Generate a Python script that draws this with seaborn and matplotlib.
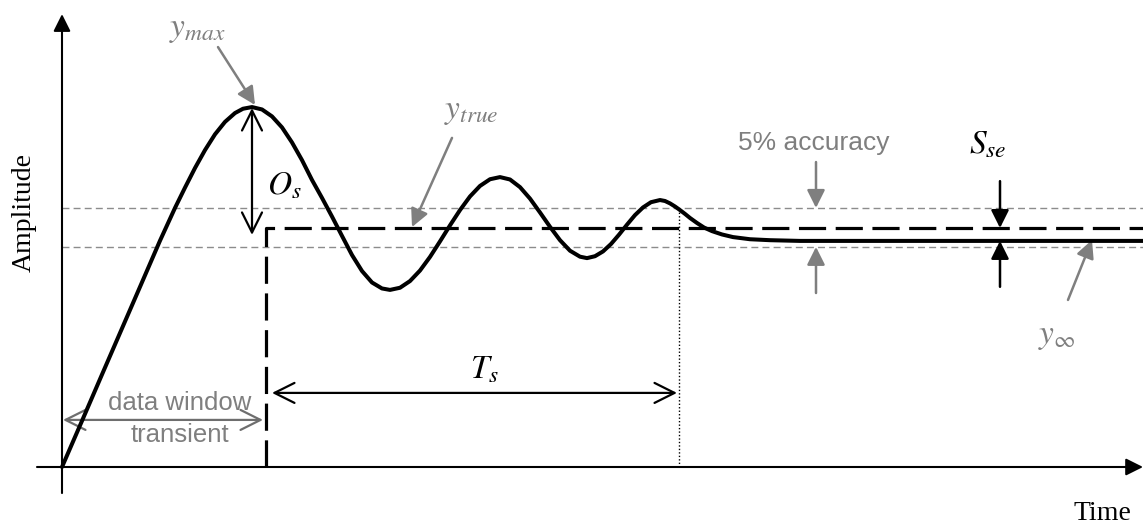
import matplotlib
matplotlib.use("Agg")
import matplotlib.pyplot as plt
import seaborn as sns
import pandas as pd

# Step response of an under-damped system (time, amplitude)
time = [0.00, 0.20, 0.40, 0.60, 0.80, 0.98, 1.13, 1.23, 1.33, 1.43, 1.53, 1.63,
        1.73, 1.81, 1.90, 2.00, 2.10, 2.20, 2.30, 2.40, 2.50, 2.60, 2.70, 2.80,
        2.90, 3.00, 3.10, 3.20, 3.28, 3.38, 3.48, 3.58, 3.68, 3.78, 3.88, 3.98,
        4.08, 4.18, 4.28, 4.38, 4.48, 4.58, 4.68, 4.78, 4.88, 4.98, 5.08, 5.18,
        5.25, 5.33, 5.41, 5.49, 5.57, 5.65, 5.73, 5.81, 5.89, 5.98, 6.03, 6.08,
        6.13, 6.18, 6.23, 6.28, 6.35, 6.42, 6.50, 6.60, 6.71, 6.88, 7.08, 7.38,
        8.38, 9.38, 10.81]
amplitude = [0.000, 0.193, 0.387, 0.580, 0.773, 0.947, 1.084, 1.169, 1.251, 1.326, 1.392, 1.444,
             1.481, 1.499, 1.506, 1.496, 1.467, 1.421, 1.358, 1.284, 1.201, 1.126, 1.048, 0.967,
             0.887, 0.820, 0.772, 0.747, 0.741, 0.750, 0.778, 0.822, 0.879, 0.944, 1.011, 1.075,
             1.132, 1.176, 1.204, 1.213, 1.203, 1.171, 1.123, 1.065, 1.005, 0.949, 0.905, 0.880,
             0.874, 0.882, 0.902, 0.933, 0.972, 1.014, 1.054, 1.086, 1.108, 1.117, 1.113, 1.103,
             1.090, 1.075, 1.059, 1.042, 1.021, 1.002, 0.987, 0.973, 0.962, 0.953, 0.949, 0.946,
             0.946, 0.946, 0.946]

# Key quantities
y_true = 1.0          # ideal final value (dashed step)
y_max = 1.506         # peak of the response
y_inf = 0.946         # steady-state value
band_hi = 1.084       # upper accuracy limit
band_lo = 0.921       # lower accuracy limit
t_window = 2.04       # end of the transient data window
t_settle = 6.17       # settling instant
t_end = 10.81

sns.set_theme(style="white")
plt.rcParams["mathtext.fontset"] = "stix"

fig = plt.figure(figsize=(11.43, 5.24), dpi=100)
ax = fig.add_axes([0, 0, 1, 1])
ax.set_xlim(-0.62, t_end)
ax.set_ylim(-0.2385, 1.954)
ax.axis("off")

GRAY = "#7f7f7f"
serif = "Liberation Serif"
sans = "Liberation Sans"
MATH = 24

# accuracy band
for yb in (band_hi, band_lo):
    ax.plot([0, t_end], [yb, yb], color="#8c8c8c", lw=1.0,
            linestyle=(0, (5, 3)), zorder=1)

# ideal step (y_true)
step = pd.DataFrame({"t": [t_window, t_window, t_end], "y": [0, y_true, y_true]})
sns.lineplot(data=step, x="t", y="y", ax=ax, sort=False, estimator=None,
             color="black", lw=2.3, linestyle=(0, (8.5, 3.0)), zorder=3)

# settling marker
ax.plot([t_settle, t_settle], [0, band_hi], color="black", lw=1.0,
        linestyle=(0, (1, 1.5)), zorder=2)

# response
resp = pd.DataFrame({"t": time, "y": amplitude})
sns.lineplot(data=resp, x="t", y="y", ax=ax, sort=False, estimator=None,
             color="black", lw=2.9, zorder=4)

# coordinate axes
ax.annotate("", xy=(0, 1.895), xytext=(0, -0.109),
            arrowprops=dict(arrowstyle="-|>", color="black", lw=1.5,
                            mutation_scale=26, shrinkA=0, shrinkB=0))
ax.annotate("", xy=(t_end, 0), xytext=(-0.25, 0),
            arrowprops=dict(arrowstyle="-|>", color="black", lw=1.5,
                            mutation_scale=26, shrinkA=0, shrinkB=0))

ax.text(-0.38, 1.063, "Amplitude", rotation=90, ha="center", va="center",
        fontsize=20, family=serif, color="black")
ax.text(10.405, -0.222, "Time", ha="center", va="baseline",
        fontsize=20, family=serif, color="black")

open_head = "<->,head_length=0.72,head_width=0.36"

# overshoot
ax.annotate("", xy=(1.90, y_max - 0.004), xytext=(1.90, 0.971),
            arrowprops=dict(arrowstyle=open_head, color="black", lw=1.6,
                            mutation_scale=20, shrinkA=0, shrinkB=0), zorder=5)
ax.text(2.22, 1.18, r"$O_s$", ha="center", va="center", fontsize=MATH, color="black")

# settling time
ax.annotate("", xy=(2.10, 0.310), xytext=(6.15, 0.310),
            arrowprops=dict(arrowstyle=open_head, color="black", lw=1.6,
                            mutation_scale=20, shrinkA=0, shrinkB=0))
ax.text(4.23, 0.41, r"$T_s$", ha="center", va="center", fontsize=MATH, color="black")

# transient data window
ax.annotate("", xy=(0.01, 0.197), xytext=(2.01, 0.197),
            arrowprops=dict(arrowstyle=open_head, color="#6e6e6e", lw=1.6,
                            mutation_scale=20, shrinkA=0, shrinkB=0))
ax.text(1.18, 0.268, "data window", ha="center", va="center",
        fontsize=18.5, family=sans, color=GRAY)
ax.text(1.18, 0.134, "transient", ha="center", va="center",
        fontsize=18.5, family=sans, color=GRAY)

filled = dict(arrowstyle="-|>", lw=1.8, mutation_scale=27, shrinkA=0, shrinkB=0)

# peak label
ax.annotate("", xy=(1.93, 1.515), xytext=(1.56, 1.757),
            arrowprops=dict(color=GRAY, **filled))
ax.text(1.35, 1.835, r"$y_{max}$", ha="center", va="center", fontsize=MATH, color=GRAY)

# ideal value label
ax.annotate("", xy=(3.50, 1.004), xytext=(3.90, 1.377),
            arrowprops=dict(color=GRAY, **filled))
ax.text(4.09, 1.49, r"$y_{true}$", ha="center", va="center", fontsize=MATH, color=GRAY)

# accuracy band label
ax.text(7.52, 1.356, "5% accuracy", ha="center", va="center",
        fontsize=19, family=sans, color=GRAY)
ax.annotate("", xy=(7.54, band_hi), xytext=(7.54, 1.276),
            arrowprops=dict(color=GRAY, **filled))
ax.annotate("", xy=(7.54, band_lo), xytext=(7.54, 0.728),
            arrowprops=dict(color=GRAY, **filled))

# steady-state error
ax.text(9.26, 1.35, r"$S_{se}$", ha="center", va="center", fontsize=MATH, color="black")
ax.annotate("", xy=(9.38, y_true), xytext=(9.38, 1.196),
            arrowprops=dict(color="black", **filled))
ax.annotate("", xy=(9.38, y_inf), xytext=(9.38, 0.754),
            arrowprops=dict(color="black", **filled))

# steady-state label
ax.annotate("", xy=(10.30, 0.950), xytext=(10.06, 0.699),
            arrowprops=dict(color=GRAY, **filled))
ax.text(9.95, 0.552, r"$y_\infty$", ha="center", va="center", fontsize=MATH, color=GRAY)

fig.savefig("out.png", dpi=100)
